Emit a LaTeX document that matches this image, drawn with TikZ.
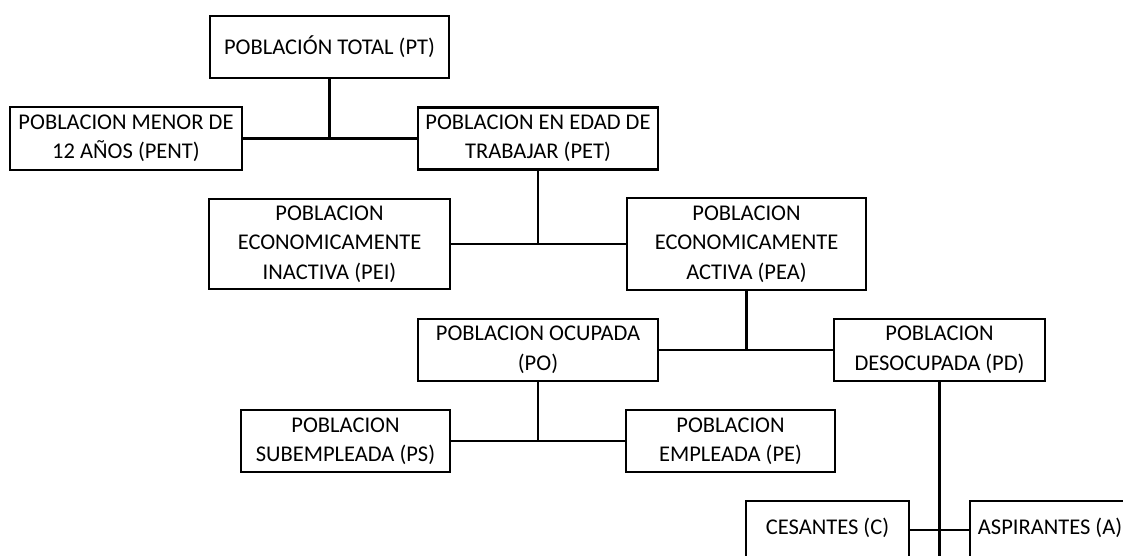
\documentclass[tikz,border=0pt]{standalone}
\usepackage{fontspec}
\setmainfont{Carlito}
\begin{document}
\begin{tikzpicture}[x=1pt,y=-1pt,
  box/.style={draw, line width=2.8pt, inner sep=0pt, align=center,
    font=\fontsize{22.5}{29.5}\selectfont},
  conn/.style={line width=2.8pt}]
\useasboundingbox (0,0) rectangle (1123,555);
\clip (0,0) rectangle (1123,555);
\node[box, minimum width=239pt, minimum height=62pt] (PT) at (329.5,47) {POBLACIÓN TOTAL (PT)};
\node[box, minimum width=232pt, minimum height=63pt] (PENT) at (126,138.5) {POBLACION MENOR DE\\12 AÑOS (PENT)};
\node[box, minimum width=240pt, minimum height=62pt] (PET) at (538,138.5) {POBLACION EN EDAD DE\\TRABAJAR (PET)};
\node[box, minimum width=241pt, minimum height=90pt] (PEI) at (329.5,244) {POBLACION\\ECONOMICAMENTE\\INACTIVA (PEI)};
\node[box, minimum width=239pt, minimum height=92pt] (PEA) at (746.5,244) {POBLACION\\ECONOMICAMENTE\\ACTIVA (PEA)};
\node[box, minimum width=240pt, minimum height=62pt] (PO) at (538,350) {POBLACION OCUPADA\\(PO)};
\node[box, minimum width=211pt, minimum height=62pt] (PD) at (939.5,350) {POBLACION\\DESOCUPADA (PD)};
\node[box, minimum width=209pt, minimum height=62pt] (PS) at (345.5,441) {POBLACION\\SUBEMPLEADA (PS)};
\node[box, minimum width=209pt, minimum height=62pt] (PE) at (730.5,441) {POBLACION\\EMPLEADA (PE)};
\node[box, minimum width=163pt, minimum height=80pt, text height=15pt, text depth=29pt] (C) at (827.5,541) {CESANTES (C)};
\node[box, minimum width=160pt, minimum height=80pt, text height=15pt, text depth=29pt] (A) at (1050,541) {ASPIRANTES (A)};
\coordinate (j4) at (939.5,530);
\coordinate (bot) at (939.5,560);
\draw[conn] (PENT.east) -- (PET.west);
\draw[conn] (PT.south) -- (PT.south |- PENT.east);
\draw[conn] (PEI.east) -- (PEA.west);
\draw[conn] (PET.south) -- (PET.south |- PEI.east);
\draw[conn] (PO.east) -- (PD.west);
\draw[conn] (PEA.south) -- (PEA.south |- PO.east);
\draw[conn] (PS.east) -- (PE.west);
\draw[conn] (PO.south) -- (PO.south |- PS.east);
\draw[conn] (C.east |- j4) -- (A.west |- j4);
\draw[conn] (PD.south) -- (bot);
\end{tikzpicture}
\end{document}
